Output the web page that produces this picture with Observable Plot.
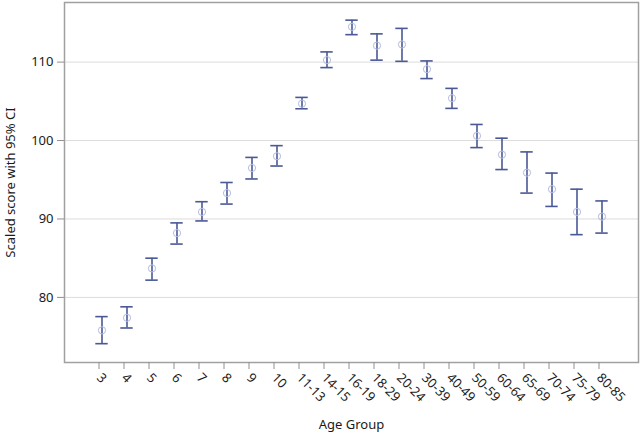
<!DOCTYPE html>
<html>
<head>
<meta charset="utf-8">
<script src="https://cdn.jsdelivr.net/npm/d3@7"></script>
<script src="https://cdn.jsdelivr.net/npm/@observablehq/plot@0.6"></script>
<style>
  html, body { margin: 0; padding: 0; background: #fff; }
  #chart svg { font-family: "Noto Sans", "Open Sans", sans-serif; }
</style>
</head>
<body>
<div id="chart"></div>
<script>
const ageGroups = ["3","4","5","6","7","8","9","10","11-13","14-15","16-19","18-29","20-24","30-39","40-49","50-59","60-64","65-69","70-74","75-79","80-85"];
const means = [75.8, 77.4, 83.7, 88.2, 90.9, 93.3, 96.5, 98.0, 104.7, 110.25, 114.5, 112.1, 112.25, 109.1, 105.4, 100.6, 98.2, 95.9, 93.8, 90.9, 90.3];
const lower = [74.1, 76.1, 82.2, 86.8, 89.75, 91.9, 95.1, 96.75, 104.05, 109.3, 113.5, 110.25, 110.1, 107.9, 104.1, 99.1, 96.3, 93.3, 91.6, 88.0, 88.2];
const upper = [77.55, 78.8, 85.0, 89.5, 92.2, 94.65, 97.85, 99.35, 105.5, 111.3, 115.35, 113.6, 114.3, 110.15, 106.65, 102.05, 100.3, 98.55, 95.85, 93.8, 92.3];
const yTicks = [80, 90, 100, 110];

const data = ageGroups.map((g, i) => ({group: g, mean: means[i], lo: lower[i], hi: upper[i]}));

const barColor = "#4a5896";
const dotColor = "#b3bbde";

const chart = Plot.plot({
  width: 640,
  height: 436,
  marginLeft: 64,
  marginRight: 2,
  marginTop: 2,
  marginBottom: 74,
  style: {fontSize: "13px", color: "#1a1a1a"},
  x: {type: "band", domain: ageGroups, paddingInner: 0, paddingOuter: 0.624},
  y: {domain: [71.7, 117.6]},
  marks: [
    Plot.gridY(yTicks, {stroke: "#dcdcdc", strokeOpacity: 1}),
    Plot.frame({stroke: "#a0a0a0", strokeWidth: 1.5}),
    Plot.axisY(yTicks, {tickSize: 7, stroke: "#909090", tickPadding: 4, label: "Scaled score with 95% CI", labelAnchor: "center", labelOffset: 59, labelArrow: "none", fontSize: 13, fill: "#1a1a1a"}),
    Plot.axisX({tickSize: 7, stroke: "#909090", tickRotate: 45, textAnchor: "start", tickPadding: 6, dx: -3, label: "Age Group", labelAnchor: "center", labelOffset: 66, labelArrow: "none", fontSize: 13, fill: "#1a1a1a"}),
    Plot.ruleX(data, {x: "group", y1: "lo", y2: "hi", stroke: barColor, strokeWidth: 1.6}),
    Plot.tickY(data, {x: "group", y: "lo", stroke: barColor, strokeWidth: 1.6, insetLeft: 6.3, insetRight: 6.3}),
    Plot.tickY(data, {x: "group", y: "hi", stroke: barColor, strokeWidth: 1.6, insetLeft: 6.3, insetRight: 6.3}),
    Plot.dot(data, {x: "group", y: "mean", r: 3.6, stroke: dotColor, strokeWidth: 1, fill: "none"})
  ]
});
document.getElementById("chart").appendChild(chart);
</script>
</body>
</html>
